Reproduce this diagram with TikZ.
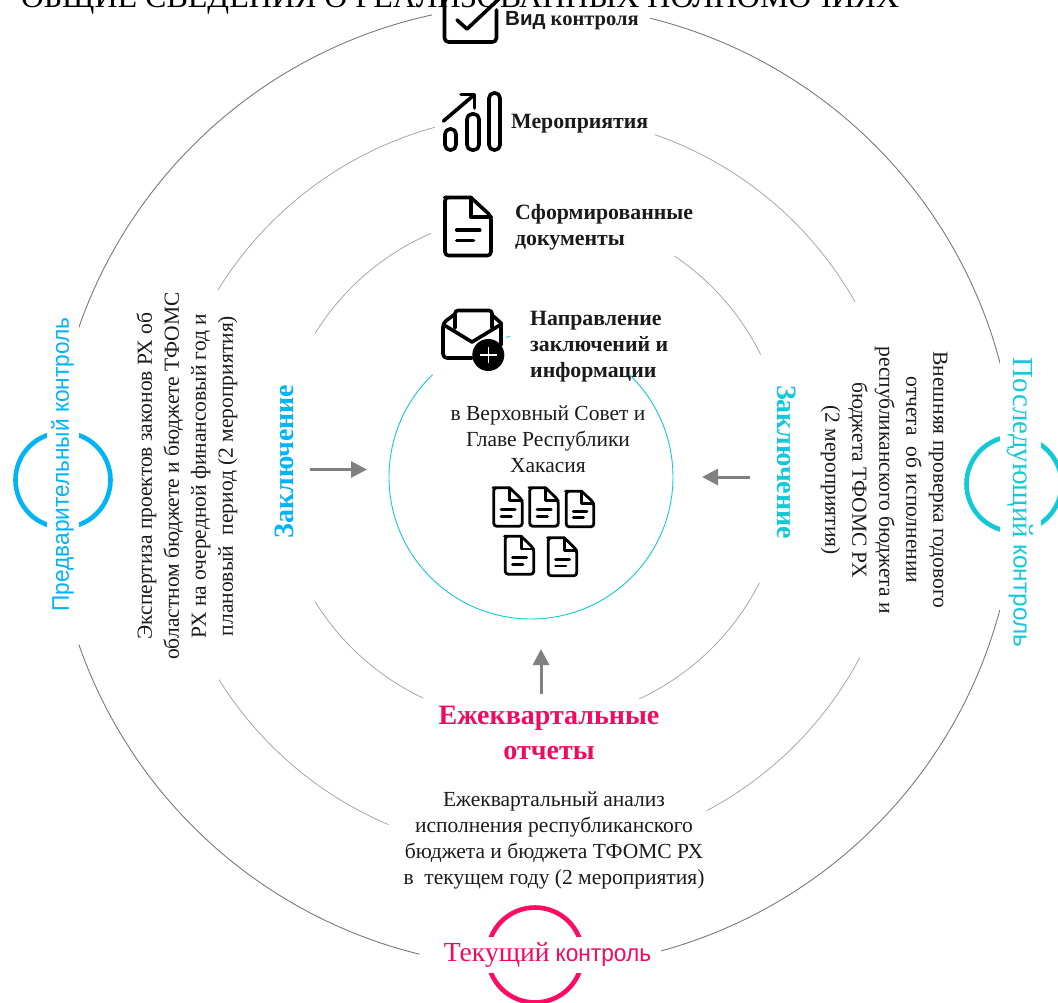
\documentclass[tikz,border=0pt]{standalone}
\usepackage{fontspec}
\usetikzlibrary{arrows.meta}
\setmainfont{Liberation Serif}
\newfontfamily\sansf{Liberation Sans}
\newfontfamily\sansn[FakeStretch=0.945]{Liberation Sans}
\definecolor{skyc}{HTML}{00B4F5}
\definecolor{tealc}{HTML}{12C9D8}
\definecolor{pinkc}{HTML}{F5085F}
\definecolor{ringpink}{HTML}{FF0A64}
\definecolor{txt}{HTML}{1A1A1A}
\newcommand\ringarc[6]{\draw[#1] ({#2+#4*cos(#5)},{#3-#4*sin(#5)}) arc[start angle=#5,end angle=#6,radius=#4pt];}
\newcommand\docicon[5]{%
\begin{scope}[shift={(#1,#2)},x=#3*0.01pt,y=-#4*0.00769pt,line width=#5pt,rounded corners=#5pt,line cap=round,line join=round]
\draw (56,1) -- (8,1) -- (1,1) -- (1,129) -- (99,129) -- (99,42) -- (56,1);
\draw[rounded corners=0pt] (56,1) -- (56,44) -- (99,44);
\draw (26,73) -- (75,73);
\draw (26,96) -- (62,96);
\end{scope}}
\tikzset{
 body/.style={font=\fontsize{21.5}{26}\selectfont,text=txt,align=center,inner sep=0pt},
 sidebody/.style={font=\fontsize{21.5}{27}\selectfont,text=txt,align=center,inner sep=0pt},
 head/.style={font=\fontsize{21.8}{25.8}\bfseries\selectfont,text=txt,align=left,inner sep=0pt},
 concl/.style={font=\fontsize{28}{32}\bfseries\selectfont,inner sep=0pt},
 ctl/.style={font=\fontsize{24}{28}\selectfont,fill=white,inner xsep=0pt,inner ysep=0pt},
 ring1/.style={draw=gray!95!black,line width=0.9pt},
 ring2/.style={draw=black!35,line width=0.8pt},
 flow/.style={draw=black!50,line width=3pt,-{Triangle[length=16pt,width=16pt]}},
 icon/.style={line width=3.6pt,line cap=round,line join=round}
}
\begin{document}
\begin{tikzpicture}[x=1pt,y=-1pt]
\useasboundingbox (0,0) rectangle (1058,1003);
% title (cut by the page edge)
\node[anchor=base,inner sep=0pt,font=\fontsize{32}{34}\selectfont] (title) at (460,8) {ОБЩИЕ СВЕДЕНИЯ О РЕАЛИЗОВАННЫХ ПОЛНОМОЧИЯХ};
% outer ring
\ringarc{ring1}{534}{486}{482}{161.1}{102.2}
\ringarc{ring1}{534}{486}{482}{76.05}{13.98}
\ringarc{ring1}{534}{486}{482}{-14.9}{-74.7}
\ringarc{ring1}{534}{486}{482}{256.25}{199.2}
% middle ring
\ringarc{ring2}{533}{484}{370}{148.4}{105.4}
\ringarc{ring2}{533}{484}{370}{70.8}{29.5}
\ringarc{ring2}{533}{484}{370}{-28}{-62}
\ringarc{ring2}{533}{484}{370}{247}{211.9}
% inner ring
\ringarc{ring2}{532}{467.5}{255}{148.3}{113.3}
\ringarc{ring2}{532}{467.5}{255}{56}{26.3}
\ringarc{ring2}{532}{467.5}{255}{-26.9}{-65.1}
\ringarc{ring2}{532}{467.5}{255}{244.7}{211.7}
% centre circle
\ringarc{draw=tealc,line width=0.9pt}{531}{477}{142}{133.9}{405.9}
\ringarc{draw=tealc,line width=0.9pt}{531}{477}{142}{100.3}{98.6}
% coloured rings
\draw[skyc,line width=4.6pt] (63,480) circle[radius=47.5pt];
\draw[tealc,line width=4.6pt] (1014,484) circle[radius=47.5pt];
\draw[ringpink,line width=4.6pt] (535,955) circle[radius=47.5pt];
% control labels
\node[ctl,rotate=90,text=skyc,minimum height=32pt,font=\fontsize{24}{28}\sansn\selectfont] (pre) at (62.5,464.5) {Предварительный контроль};
\node[ctl,rotate=-90,text=tealc,minimum height=41pt] (post) at (1020.5,502.5) {{\fontsize{29}{30}\selectfont Последующий} {\fontsize{24.4}{28}\sansf\selectfont контроль}};
\node[ctl,text=pinkc,minimum height=36pt] (cur) at (547.5,955) {{\fontsize{27.6}{28}\selectfont Текущий} {\fontsize{24}{28}\sansn\selectfont контроль}};
% texts
\node[sidebody,rotate=90] (pretext) at (187,476) {Экспертиза проектов законов РХ об\\областном бюджете и бюджете ТФОМС\\РХ на очередной финансовый год и\\плановый\ \ период (2 мероприятия)};
\node[sidebody,rotate=-90] (posttext) at (884,480) {Внешняя проверка годового\\отчета\ \ об исполнении\\республиканского бюджета и\\бюджета ТФОМС РХ\\(2 мероприятия)};
\node[concl,rotate=90,text=skyc] (cl) at (284,461.5) {Заключение};
\node[concl,rotate=-90,text=tealc] (cr) at (787,462) {Заключение};
\node[body] (cen) at (548,439) {в Верховный Совет и\\Главе Республики\\Хакасия};
\node[font=\fontsize{28}{35}\bfseries\selectfont,text=pinkc,align=center,inner sep=0pt] (quart) at (549,733) {Ежеквартальные\\отчеты};
\node[body] (quarttext) at (554,840) {Ежеквартальный анализ\\исполнения республиканского\\бюджета и бюджета ТФОМС РХ\\в\ \ текущем году (2 мероприятия)};
\node[head,anchor=base west,font=\fontsize{20.5}{25}\bfseries\selectfont] (h1) at (505,26) {{\sansf Вид} контроля};
\node[head,anchor=base west] (h2) at (511,128.5) {Мероприятия};
\node[head,anchor=base west] (h3) at (515,245.5) {Сформированные\\документы};
\node[head,anchor=base west] (h4) at (530,377) {Направление\\заключений и\\информации};
% arrows
\coordinate (a1s) at (310,469.5); \coordinate (a1e) at (367,469.5);
\coordinate (a2s) at (750,477); \coordinate (a2e) at (702,477);
\coordinate (a3s) at (541,693.5); \coordinate (a3e) at (541,649);
\draw[flow] (a1s) -- (a1e);
\draw[flow] (a2s) -- (a2e);
\draw[flow] (a3s) -- (a3e);
% check icon
\draw[icon,rounded corners=4pt] (444.5,-14) -- (444.5,42) -- (496.5,42) -- (496.5,10);
\draw[icon] (457,20) -- (467,29) -- (501,-3);
% chart icon
\draw[icon,rounded corners=5pt] (445,129) rectangle (456,150);
\draw[icon,rounded corners=5pt] (467,114) rectangle (479,150);
\draw[icon,rounded corners=5pt] (489,93) rectangle (500,150);
\draw[icon] (443.5,121) -- (474,95);
\draw[icon] (461,94.5) -- (474.5,94.5) -- (474.5,108);
% documents
\docicon{444.5}{197}{47}{59}{3.6}
\docicon{493.5}{487.5}{29}{39}{2.8}
\docicon{529.5}{487.5}{29}{39}{2.8}
\docicon{566}{491}{28}{36}{2.8}
\docicon{505}{536}{29}{38.5}{2.8}
\docicon{548}{537.5}{29}{38.5}{2.8}
% envelope icon
\draw[icon,rounded corners=4pt] (472,358) -- (443,358) -- (443,323) -- (455,314);
\draw[icon] (501,345) -- (501,323) -- (492,315);
\draw[icon,rounded corners=3pt] (455,328) -- (455,310.5) -- (492,310.5) -- (492,328);
\draw[icon] (444,325) -- (472,342) -- (500,325);
\fill[black] (488.3,355) circle[radius=16pt];
\draw[white,line width=1.6pt] (480,355) -- (496.6,355) (488.3,346.7) -- (488.3,363.3);
\end{tikzpicture}
\end{document}
